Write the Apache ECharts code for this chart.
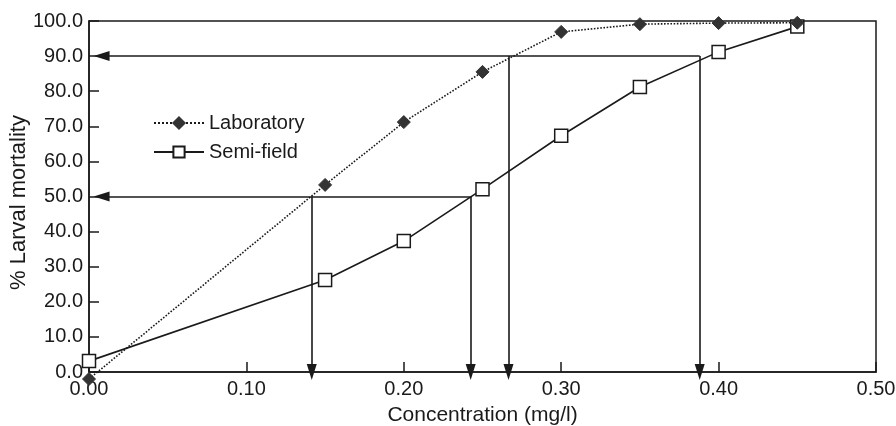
<!DOCTYPE html>
<html>
<head>
<meta charset="utf-8">
<script src="https://cdn.jsdelivr.net/npm/echarts@6/dist/echarts.min.js"></script>
<style>html,body{margin:0;padding:0;background:#fff}#c{width:896px;height:426px}</style>
</head>
<body>
<div id="c"></div>
<script>
// Data
const concentrations = [0.00, 0.15, 0.20, 0.25, 0.30, 0.35, 0.40, 0.45];
const laboratory = [-2.0, 53.3, 71.2, 85.5, 96.9, 99.1, 99.4, 99.5];
const semiField = [3.1, 26.2, 37.3, 52.1, 67.3, 81.2, 91.2, 98.4];
// LC reference arrows: [x1, y1, x2, y2]
const arrowSegments = [
  [0.388, 90, 0.008, 90],
  [0.2665, 90, 0.2665, 0],
  [0.388, 90, 0.388, 0],
  [0.2425, 50, 0.008, 50],
  [0.1415, 50, 0.1415, 0],
  [0.2425, 50, 0.2425, 0]
];
const seriesNames = ['Laboratory', 'Semi-field'];

const ink = '#1a1a1a';
const font = 'Liberation Sans, Arial, sans-serif';

const chart = echarts.init(document.getElementById('c'), null, {renderer: 'canvas'});
chart.setOption({
  animation: false,
  backgroundColor: '#fff',
  grid: {left: 89, right: 20, top: 21, bottom: 54, show: true, borderColor: ink, borderWidth: 1.5,
         containLabel: false, outerBoundsMode: 'none'},
  legend: {
    orient: 'vertical', left: 148, top: 108, itemWidth: 50, itemHeight: 14, itemGap: 9,
    data: seriesNames,
    textStyle: {color: ink, fontSize: 20, fontFamily: font}
  },
  xAxis: {
    type: 'value', min: 0, max: 0.5, interval: 0.1,
    name: 'Concentration (mg/l)', nameLocation: 'middle', nameGap: 33, nameMoveOverlap: false,
    nameTextStyle: {color: ink, fontSize: 21, fontFamily: font},
    axisLine: {lineStyle: {color: ink, width: 1.5}},
    axisTick: {inside: true, length: 10, lineStyle: {color: ink, width: 1.5}},
    axisLabel: {color: ink, fontSize: 20, fontFamily: font, margin: 7, formatter: v => v.toFixed(2)},
    splitLine: {show: false}
  },
  yAxis: {
    type: 'value', min: 0, max: 100, interval: 10,
    name: '% Larval mortality', nameLocation: 'middle', nameGap: 59, nameMoveOverlap: false,
    nameTextStyle: {color: ink, fontSize: 22, fontFamily: font, padding: [0, 12, 0, 0]},
    axisLine: {show: true, lineStyle: {color: ink, width: 1.5}},
    axisTick: {show: true, inside: true, length: 10, lineStyle: {color: ink, width: 1.5}},
    axisLabel: {color: ink, fontSize: 20, fontFamily: font, margin: 6, formatter: v => v.toFixed(1)},
    splitLine: {show: false}
  },
  series: [
    {
      name: 'arrows', type: 'line', data: [], silent: true,
      markLine: {
        silent: true, symbol: ['none', 'triangle'], symbolSize: [10, 16],
        label: {show: false},
        lineStyle: {color: ink, width: 1.6, type: 'solid'},
        emphasis: {disabled: true},
        data: arrowSegments.map(s => [{coord: [s[0], s[1]]}, {coord: [s[2], s[3]]}])
      }
    },
    {
      name: seriesNames[1], type: 'line', clip: false,
      data: concentrations.map((c, i) => [c, semiField[i]]),
      symbol: 'rect', symbolSize: 13,
      itemStyle: {color: '#fff', borderColor: ink, borderWidth: 1.5},
      lineStyle: {color: ink, width: 1.6, type: 'solid'},
      z: 3
    },
    {
      name: seriesNames[0], type: 'line', clip: false,
      data: concentrations.map((c, i) => [c, laboratory[i]]),
      symbol: 'diamond', symbolSize: 13,
      itemStyle: {color: '#333', borderColor: '#333', borderWidth: 1},
      lineStyle: {color: ink, width: 1.6, type: 'dotted'},
      z: 4
    }
  ]
});
</script>
</body>
</html>
